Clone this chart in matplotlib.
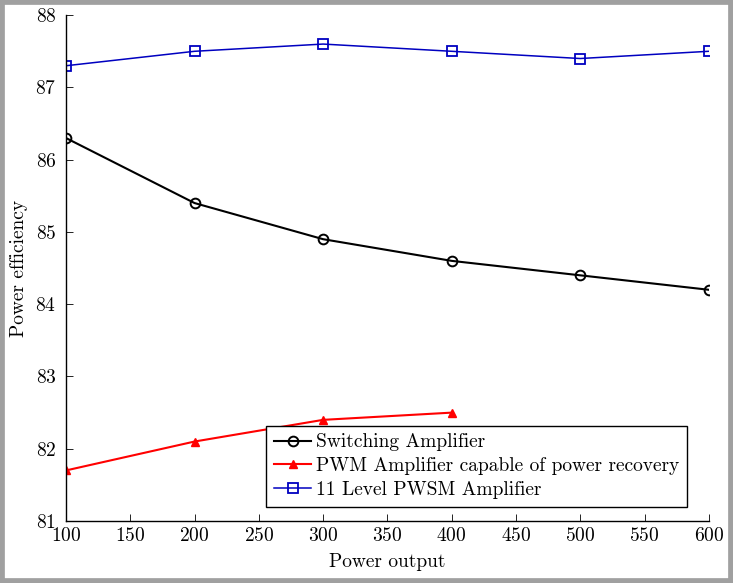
import matplotlib.pyplot as plt
from matplotlib.patches import Rectangle

plt.rcParams["font.family"] = ["cmr10", "DejaVu Serif"]
plt.rcParams["mathtext.fontset"] = "cm"
plt.rcParams["axes.formatter.use_mathtext"] = True

power_out = [100, 200, 300, 400, 500, 600]
switching = [86.3, 85.4, 84.9, 84.6, 84.4, 84.2]
pwm_out = [100, 200, 300, 400]
pwm_recovery = [81.7, 82.1, 82.4, 82.5]
pwsm_11 = [87.3, 87.5, 87.6, 87.5, 87.4, 87.5]

x_ticks = list(range(100, 601, 50))
y_ticks = list(range(81, 89))

fs = 14

fig = plt.figure(figsize=(7.33, 5.83), dpi=100)
ax = fig.add_axes([0.090, 0.1063, 0.877, 0.8677])

ax.plot(power_out, switching, color="black", lw=1.5, marker="o",
        ms=7, mfc="none", mew=1.4, label="Switching Amplifier")
ax.plot(pwm_out, pwm_recovery, color="red", lw=1.5, marker="^",
        ms=5.5, mfc="red", mew=1.0, label="PWM Amplifier capable of power recovery")
ax.plot(power_out, pwsm_11, color="#0000c0", lw=1.1, marker="s",
        ms=6.5, mfc="none", mew=1.3, label="11 Level PWSM Amplifier")

ax.set_xlim(100, 600)
ax.set_ylim(81, 88)
ax.set_xticks(x_ticks)
ax.set_yticks(y_ticks)
ax.spines["top"].set_visible(False)
ax.spines["right"].set_visible(False)
for s in ("left", "bottom"):
    ax.spines[s].set_linewidth(1.0)
ax.tick_params(direction="in", length=5, width=0.6, labelsize=fs)
ax.tick_params(axis="x", pad=4)
ax.tick_params(axis="y", pad=7)

ax.set_xlabel("Power output", fontsize=fs, labelpad=6)
ax.set_ylabel("Power efficiency", fontsize=fs, labelpad=5)

leg = ax.legend(loc="lower right", bbox_to_anchor=(0.966, 0.028), fontsize=fs,
                frameon=True, fancybox=False, edgecolor="black", framealpha=1,
                handlelength=1.9, handletextpad=0.25, borderpad=0.4,
                labelspacing=0.3, borderaxespad=0)
leg.get_frame().set_linewidth(1.0)

# grey border round the picture
fig.patches.append(Rectangle((0, 0), 1, 1, transform=fig.transFigure,
                             fill=False, edgecolor="#a0a0a0", lw=7))

fig.savefig("out.png", dpi=100)
